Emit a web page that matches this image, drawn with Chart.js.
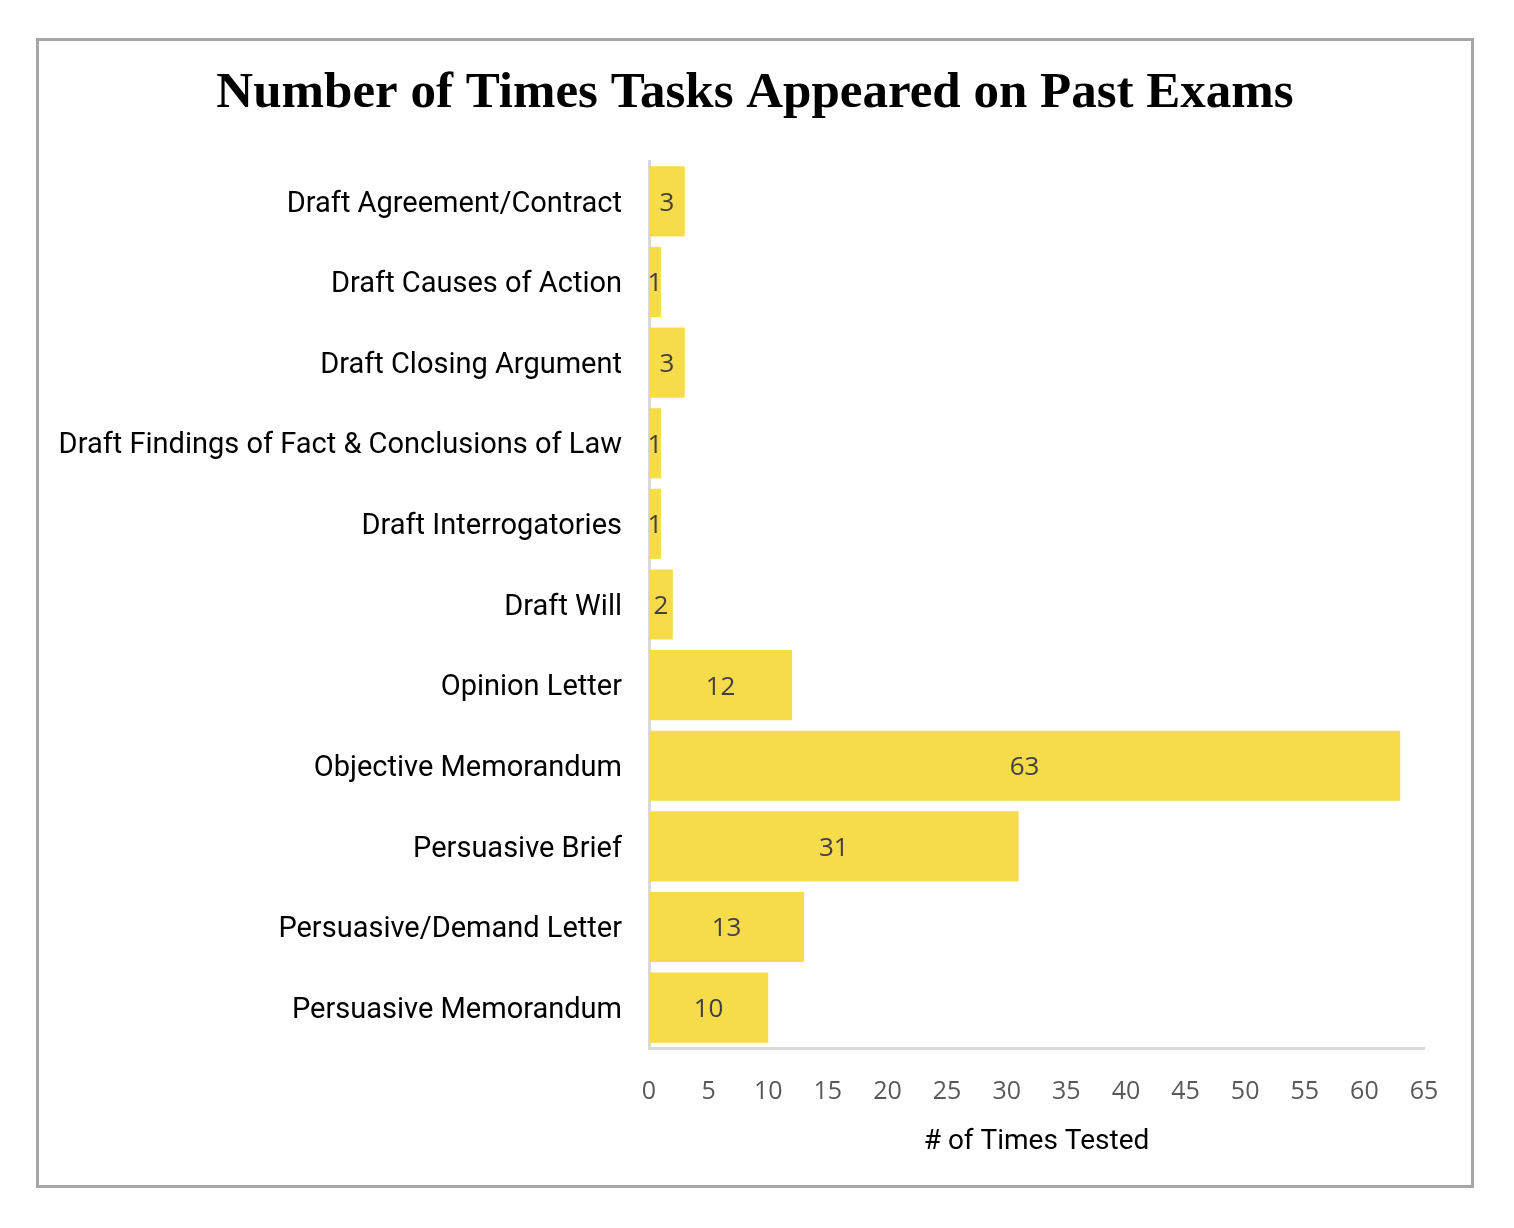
<!DOCTYPE html>
<html>
<head>
<meta charset="utf-8">
<script src="https://cdn.jsdelivr.net/npm/chart.js@4.4.1/dist/chart.umd.min.js"></script>
<style>
  body { margin: 0; background: #fff; }
  #frame {
    position: absolute; left: 36px; top: 38px;
    width: 1432px; height: 1144px;
    border: 3px solid #a6a6a6;
  }
</style>
</head>
<body>
<div id="frame"><canvas id="myChart" width="1432" height="1144"></canvas></div>
<script>
const chartTitle = 'Number of Times Tasks Appeared on Past Exams';
const categories = [
    "Draft Agreement/Contract",
    "Draft Causes of Action",
    "Draft Closing Argument",
    "Draft Findings of Fact & Conclusions of Law",
    "Draft Interrogatories",
    "Draft Will",
    "Opinion Letter",
    "Objective Memorandum",
    "Persuasive Brief",
    "Persuasive/Demand Letter",
    "Persuasive Memorandum"
];
const timesTested = [3, 1, 3, 1, 1, 2, 12, 63, 31, 13, 10];
const xMin = 0;
const xMax = 65;
const xStep = 5;

// draw the value in the middle of each bar
const barLabels = {
    id: 'barLabels',
    afterDatasetsDraw(chart) {
        const ctx = chart.ctx;
        ctx.save();
        ctx.font = '26px "Open Sans"';
        ctx.fillStyle = '#404040';
        ctx.textAlign = 'center';
        ctx.textBaseline = 'middle';
        chart.getDatasetMeta(0).data.forEach((bar, i) => {
            const cx = (bar.x + bar.base) / 2;
            ctx.fillText(String(timesTested[i]), cx, bar.y + 2);
        });
        ctx.restore();
    }
};

// title centred on the whole canvas (the built-in one follows the uneven padding)
const centredTitle = {
    id: 'centredTitle',
    afterDraw(chart) {
        const ctx = chart.ctx;
        ctx.save();
        ctx.font = 'bold 51px "Liberation Serif"';
        ctx.fillStyle = '#000';
        ctx.textAlign = 'center';
        ctx.textBaseline = 'middle';
        ctx.fillText(chartTitle, chart.width / 2, 53);
        ctx.restore();
    }
};

const ctx = document.getElementById('myChart');
new Chart(ctx, {
    type: 'bar',
    data: {
        labels: categories,
        datasets: [{
            data: timesTested,
            backgroundColor: '#f6dc4b',
            borderWidth: 0,
            categoryPercentage: 0.87,
            barPercentage: 1
        }]
    },
    plugins: [barLabels, centredTitle],
    options: {
        indexAxis: 'y',
        responsive: false,
        animation: false,
        layout: { padding: { left: 18, right: 47, top: 120, bottom: 8 } },
        plugins: {
            legend: { display: false },
            tooltip: { enabled: false },
            title: { display: false }
        },
        scales: {
            x: {
                min: xMin,
                max: xMax,
                ticks: {
                    stepSize: xStep,
                    color: '#595959',
                    font: { family: '"Open Sans"', size: 25 },
                    padding: 29
                },
                grid: { display: false, drawTicks: false },
                border: { display: true, color: '#d9d9d9', width: 3 },
                title: {
                    display: true,
                    text: '# of Times Tested',
                    color: '#000',
                    font: { family: 'Roboto', size: 28 },
                    padding: { top: 4, bottom: 18 }
                },
                afterFit(scale) { scale.height = 129; }
            },
            y: {
                ticks: {
                    color: '#000',
                    font: { family: 'Roboto', size: 29 },
                    padding: 27,
                    labelOffset: 3
                },
                grid: { display: false, drawTicks: false },
                border: { display: true, color: '#d9d9d9', width: 3 },
                afterFit(scale) { scale.width = 592; }
            }
        }
    }
});
</script>
</body>
</html>
